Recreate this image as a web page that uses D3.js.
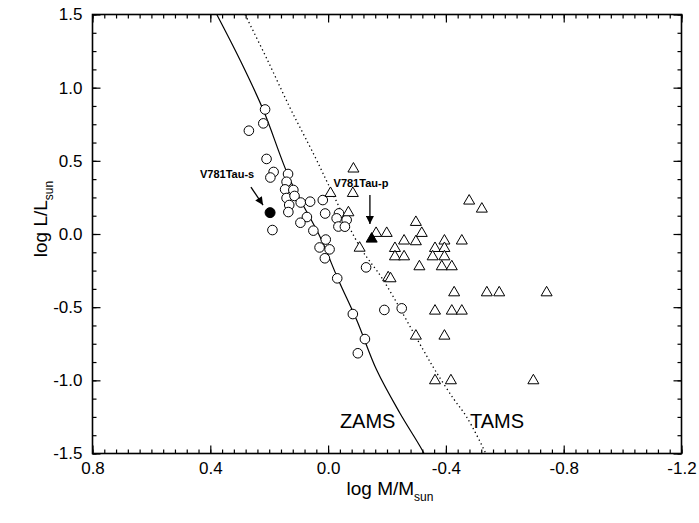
<!DOCTYPE html>
<html><head><meta charset="utf-8">
<script src="https://cdn.jsdelivr.net/npm/d3@7"></script>
<style>body{margin:0;background:#fff}svg{display:block;font-family:"Liberation Sans",Arial,sans-serif}</style>
</head><body><svg id="c" width="699" height="523"></svg>
<script>
// ---- data ----
const xTickLabels = [0.8, 0.4, 0.0, -0.4, -0.8, -1.2];
const yTickLabels = [1.5, 1.0, 0.5, 0.0, -0.5, -1.0, -1.5];

// open circles
const circMass = [0.214,0.220,0.269,0.209,0.185,0.196,0.136,0.141,0.146,0.118,0.141,0.114,0.132,0.093,0.061,0.018,0.135,0.072,0.094,0.010,-0.037,-0.029,-0.063,-0.035,-0.057,0.050,0.189,0.008,0.029,-0.005,0.011,-0.129,-0.031,-0.191,-0.250,-0.084,-0.125,-0.101];
const circLum  = [0.851,0.756,0.706,0.513,0.424,0.386,0.410,0.357,0.305,0.301,0.246,0.260,0.198,0.215,0.221,0.232,0.150,0.116,0.077,0.140,0.141,0.107,0.096,0.051,0.050,0.023,0.027,-0.038,-0.092,-0.105,-0.166,-0.228,-0.303,-0.519,-0.508,-0.547,-0.718,-0.815];

// open triangles
const triMass = [-0.086,-0.008,-0.084,-0.069,-0.107,-0.163,-0.199,-0.298,-0.318,-0.298,-0.258,-0.227,-0.227,-0.258,-0.310,-0.204,-0.212,-0.395,-0.363,-0.395,-0.355,-0.395,-0.386,-0.420,-0.454,-0.479,-0.522,-0.428,-0.539,-0.581,-0.742,-0.363,-0.420,-0.454,-0.298,-0.395,-0.363,-0.417,-0.697];
const triLum  = [0.456,0.289,0.289,0.157,-0.085,0.016,0.016,0.091,0.016,-0.041,-0.036,-0.087,-0.144,-0.144,-0.212,-0.287,-0.294,-0.036,-0.087,-0.087,-0.144,-0.144,-0.212,-0.212,-0.036,0.237,0.182,-0.390,-0.390,-0.390,-0.390,-0.515,-0.515,-0.515,-0.686,-0.686,-0.991,-0.991,-0.991];

// V781 Tau components
const secMass = [0.197], secLum = [0.146];     // filled circle
const priMass = [-0.148], priLum = [-0.023];   // filled triangle

// ZAMS and TAMS
const zamsMass = [0.378,0.299,0.220,0.129,0.0275,-0.035,-0.097,-0.165,-0.244,-0.323,-0.335];
const zamsLum  = [1.5,1.189,0.847,0.369,-0.018,-0.314,-0.588,-0.930,-1.225,-1.49,-1.55];
const tamsMass = [0.282,0.206,0.129,0.056,-0.108,-0.187,-0.323,-0.363,-0.425,-0.470,-0.533,-0.545];
const tamsLum  = [1.5,1.189,0.861,0.574,-0.087,-0.314,-0.792,-0.930,-1.123,-1.249,-1.49,-1.55];

// annotations (data coordinates)
const annoText = ["V781Tau-s", "V781Tau-p"];
const annoTextMass = [0.435, -0.0185];
const annoTextLum  = [0.383, 0.321];
const arrowFromMass = [0.262, -0.142], arrowFromLum = [0.321, 0.266];
const arrowToMass   = [0.221, -0.142], arrowToLum   = [0.198, 0.068];
const curveLabels = ["ZAMS", "TAMS"];
const curveLabelMass = [-0.040, -0.482];
const curveLabelLum  = [-1.326, -1.326];

// ---- chart ----
const L = 92.5, R = 681.5, T = 14.5, B = 453.5;
const svg = d3.select("#c");
const x = d3.scaleLinear().domain([0.8, -1.2]).range([L, R]);
const y = d3.scaleLinear().domain([-1.5, 1.5]).range([B, T]);
const fmt = v => (Math.abs(v) < 1e-9 ? 0 : v).toFixed(1);
const FONT = '"Liberation Sans", Arial, sans-serif';

const xMinor = d3.range(0, 51).map(i => +(0.8 - i * 0.04).toFixed(2));
const yMinor = d3.range(0, 25).map(i => +(-1.5 + i * 0.125).toFixed(3));

function styleAxis(g) {
  g.select(".domain").remove();
  g.attr("font-family", FONT).attr("font-size", 17);
  g.selectAll("line").attr("stroke", "#000").attr("stroke-width", 1.2);
  g.selectAll("text").attr("fill", "#000");
}
// bottom
svg.append("g").attr("transform", `translate(0,${B})`)
  .call(d3.axisBottom(x).tickValues(xMinor).tickSizeInner(-4).tickSizeOuter(0).tickFormat("")).call(styleAxis);
svg.append("g").attr("transform", `translate(0,${B})`)
  .call(d3.axisBottom(x).tickValues(xTickLabels).tickSizeInner(-8).tickSizeOuter(0).tickPadding(8).tickFormat(fmt)).call(styleAxis);
// top
svg.append("g").attr("transform", `translate(0,${T})`)
  .call(d3.axisTop(x).tickValues(xMinor).tickSizeInner(-4).tickSizeOuter(0).tickFormat("")).call(styleAxis);
svg.append("g").attr("transform", `translate(0,${T})`)
  .call(d3.axisTop(x).tickValues(xTickLabels).tickSizeInner(-8).tickSizeOuter(0).tickFormat("")).call(styleAxis);
// left
svg.append("g").attr("transform", `translate(${L},0)`)
  .call(d3.axisLeft(y).tickValues(yMinor).tickSizeInner(-4).tickSizeOuter(0).tickFormat("")).call(styleAxis);
svg.append("g").attr("transform", `translate(${L},0)`)
  .call(d3.axisLeft(y).tickValues(yTickLabels).tickSizeInner(-8).tickSizeOuter(0).tickPadding(10).tickFormat(fmt)).call(styleAxis);
// right
svg.append("g").attr("transform", `translate(${R},0)`)
  .call(d3.axisRight(y).tickValues(yMinor).tickSizeInner(-4).tickSizeOuter(0).tickFormat("")).call(styleAxis);
svg.append("g").attr("transform", `translate(${R},0)`)
  .call(d3.axisRight(y).tickValues(yTickLabels).tickSizeInner(-8).tickSizeOuter(0).tickFormat("")).call(styleAxis);

// frame
svg.append("rect").attr("x", L).attr("y", T).attr("width", R - L).attr("height", B - T)
  .attr("fill", "none").attr("stroke", "#000").attr("stroke-width", 1.6);

// clip
svg.append("clipPath").attr("id", "clip").append("rect")
  .attr("x", L).attr("y", T).attr("width", R - L).attr("height", B - T);

const line = d3.line().x(d => x(d[0])).y(d => y(d[1])).curve(d3.curveCatmullRom);
const zams = zamsMass.map((m, i) => [m, zamsLum[i]]);
const tams = tamsMass.map((m, i) => [m, tamsLum[i]]);
const cg = svg.append("g").attr("clip-path", "url(#clip)");
cg.append("path").attr("d", line(zams)).attr("fill", "none").attr("stroke", "#000").attr("stroke-width", 1.2);
cg.append("path").attr("d", line(tams)).attr("fill", "none").attr("stroke", "#000").attr("stroke-width", 1.3)
  .attr("stroke-dasharray", "1.3,3");

// points
const tri = (w, h) => `M0,${-h/2}L${w/2},${h/2}L${-w/2},${h/2}Z`;
const pg = svg.append("g");
pg.selectAll("circle.o").data(circMass.map((m, i) => [m, circLum[i]])).join("circle")
  .attr("cx", d => x(d[0])).attr("cy", d => y(d[1])).attr("r", 4.8)
  .attr("fill", "#fff").attr("stroke", "#000").attr("stroke-width", 1);
pg.selectAll("path.t").data(triMass.map((m, i) => [m, triLum[i]])).join("path")
  .attr("transform", d => `translate(${x(d[0])},${y(d[1])})`).attr("d", tri(11, 9.5))
  .attr("fill", "#fff").attr("stroke", "#000").attr("stroke-width", 1);
pg.selectAll("circle.s").data(secMass.map((m, i) => [m, secLum[i]])).enter().append("circle")
  .attr("cx", d => x(d[0])).attr("cy", d => y(d[1])).attr("r", 5)
  .attr("fill", "#000").attr("stroke", "#000");
pg.selectAll("path.p").data(priMass.map((m, i) => [m, priLum[i]])).enter().append("path")
  .attr("transform", d => `translate(${x(d[0])},${y(d[1])})`).attr("d", tri(11, 9.5))
  .attr("fill", "#000").attr("stroke", "#000");

// annotations
svg.append("defs").append("marker").attr("id", "ah").attr("viewBox", "0 0 10 10")
  .attr("refX", 10).attr("refY", 5).attr("markerWidth", 11).attr("markerHeight", 8)
  .attr("markerUnits", "userSpaceOnUse").attr("orient", "auto")
  .append("path").attr("d", "M0,0L10,5L0,10Z").attr("fill", "#000");
annoText.forEach((t, i) => {
  svg.append("text").attr("x", x(annoTextMass[i])).attr("y", y(annoTextLum[i]))
    .attr("font-family", FONT).attr("font-size", 11).attr("font-weight", "bold").text(t);
  svg.append("line").attr("x1", x(arrowFromMass[i])).attr("y1", y(arrowFromLum[i]))
    .attr("x2", x(arrowToMass[i])).attr("y2", y(arrowToLum[i]))
    .attr("stroke", "#000").attr("stroke-width", 1.3).attr("marker-end", "url(#ah)");
});
curveLabels.forEach((t, i) => {
  svg.append("text").attr("x", x(curveLabelMass[i])).attr("y", y(curveLabelLum[i]))
    .attr("font-family", FONT).attr("font-size", 20).text(t);
});

// axis titles
const xt = svg.append("text").attr("x", (L + R) / 2 + 3).attr("y", 495)
  .attr("text-anchor", "middle").attr("font-family", FONT).attr("font-size", 19);
xt.append("tspan").text("log M/M");
xt.append("tspan").attr("font-size", 12).attr("dy", 6).text("sun");
const yt = svg.append("text").attr("transform", `translate(47,${(T + B) / 2 - 15}) rotate(-90)`)
  .attr("text-anchor", "middle").attr("font-family", FONT).attr("font-size", 19);
yt.append("tspan").text("log L/L");
yt.append("tspan").attr("font-size", 12).attr("dy", 6).text("sun");
</script></body></html>
